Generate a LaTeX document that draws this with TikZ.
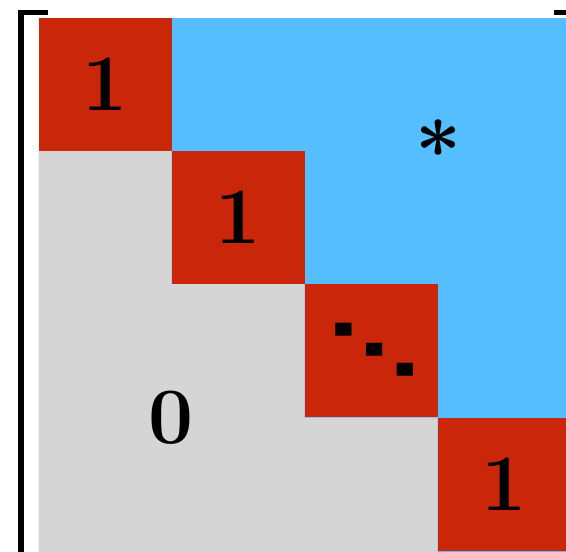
\documentclass[tikz,border=0pt]{standalone}
\usepackage{fontspec}
\newfontfamily\djv{DejaVu Sans}
\definecolor{cellred}{HTML}{C9260A}
\definecolor{cellblue}{HTML}{55BEFF}
\definecolor{cellgray}{HTML}{D5D5D5}
\tikzset{
  diagcell/.style={fill=cellred, minimum size=133pt, inner sep=0pt, outer sep=0pt, anchor=north west,
    font=\fontsize{80}{80}\selectfont\bfseries},
  bigsym/.style={inner sep=0pt, font=\fontsize{80}{80}\selectfont\bfseries},
  brack/.style={line width=5.5pt}
}
\begin{document}
\begin{tikzpicture}[x=1pt,y=-1pt]
\useasboundingbox (0,0) rectangle (566,552);
\clip (0,0) rectangle (566,552);
% upper (blue) region
\fill[cellblue] (38.5,18) rectangle (600,600);
% lower (gray) staircase region
\fill[cellgray] (38.5,151) -- (171.5,151) -- (171.5,284) -- (304.5,284) -- (304.5,417.5)
  -- (437.5,417.5) -- (437.5,600) -- (38.5,600) -- cycle;
% diagonal cells
\node[diagcell] (c1) at (38.5,18) {1};
\node[diagcell] (c2) at (171.5,151) {1};
\node[diagcell] (c3) at (304.5,284) {};
\node[diagcell] (c4) at (437.5,417.5) {1};
\node[inner sep=0pt, font=\fontsize{95}{95}\selectfont\djv\bfseries, xscale=0.97, yscale=0.72, transform shape] (dd) at (374.8,349.3) {⋱};
% labels of the triangles
\node[bigsym] (zero) at (171.5,417.5) {0};
\node[inner sep=0pt, font=\boldmath, scale=8, transform shape] (star) at (438.5,138.5) {$\ast$};
% brackets
\draw[brack] (47.5,12.5) -- (21,12.5) -- (21,600);
\draw[brack] (554,12.5) -- (600,12.5);
\end{tikzpicture}
\end{document}
